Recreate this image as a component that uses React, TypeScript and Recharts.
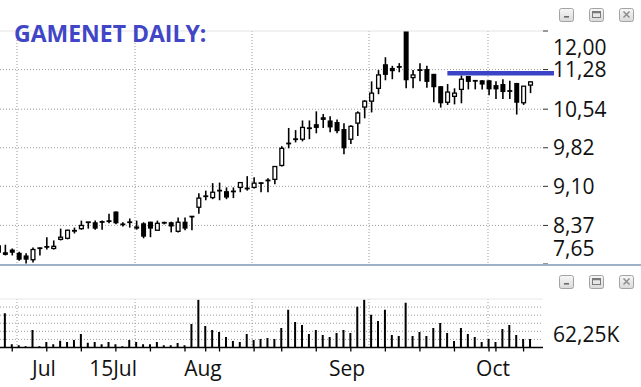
import React from 'react';
import { ComposedChart, Bar, XAxis, YAxis, CartesianGrid, ReferenceLine } from 'recharts';

// Daily candles, trading-day index starts at firstDay (-1 is the partly hidden first candle)
const firstDay = -1;
const openP = [
  8.00, 7.87, 7.92, 7.86, 7.81, 7.73, 7.96, 7.98, 7.94, 8.11,
  8.13, 8.28, 8.31, 8.43, 8.43, 8.44, 8.46, 8.63, 8.39, 8.43,
  8.35, 8.41, 8.44, 8.28, 8.43, 8.43, 8.26, 8.44, 8.54, 8.71,
  8.93, 8.89, 9.02, 9.01, 9.02, 9.08, 9.06, 9.08, 9.16, 9.21,
  9.23, 9.49, 9.90, 9.98, 9.98, 10.20, 10.26, 10.39, 10.33, 10.30,
  10.17, 9.98, 10.28, 10.58, 10.69, 10.93, 11.38, 11.31, 11.33, 12.00,
  11.13, 11.27, 11.29, 11.20, 10.97, 10.67, 10.78, 10.91, 11.16, 11.07,
  11.08, 11.08, 10.99, 11.01, 10.89, 11.03, 10.66, 10.99,
];
const highP = [
  8.01, 8.01, 7.94, 7.88, 7.85, 7.96, 7.96, 8.15, 8.09, 8.31,
  8.29, 8.33, 8.46, 8.43, 8.46, 8.46, 8.59, 8.63, 8.43, 8.50,
  8.46, 8.43, 8.44, 8.46, 8.44, 8.44, 8.52, 8.52, 8.54, 8.97,
  9.02, 9.16, 9.17, 9.08, 9.08, 9.17, 9.29, 9.27, 9.17, 9.25,
  9.47, 9.85, 10.19, 10.15, 10.33, 10.33, 10.50, 10.45, 10.41, 10.35,
  10.28, 10.24, 10.50, 10.71, 11.06, 11.27, 11.51, 11.35, 11.40, 12.00,
  11.27, 11.40, 11.35, 11.20, 10.97, 11.01, 10.93, 11.17, 11.16, 11.08,
  11.08, 11.08, 11.06, 11.10, 11.07, 11.03, 10.97, 11.06,
];
const lowP = [
  7.85, 7.81, 7.81, 7.71, 7.66, 7.68, 7.81, 7.92, 7.92, 8.09,
  8.11, 8.22, 8.29, 8.31, 8.29, 8.29, 8.41, 8.39, 8.35, 8.33,
  8.29, 8.13, 8.15, 8.28, 8.39, 8.24, 8.24, 8.28, 8.28, 8.59,
  8.84, 8.86, 8.84, 8.86, 8.88, 8.99, 9.02, 9.06, 8.99, 8.99,
  9.14, 9.47, 9.81, 9.92, 9.94, 9.98, 10.09, 10.19, 10.11, 10.09,
  9.70, 9.89, 10.04, 10.37, 10.48, 10.82, 11.08, 11.10, 11.23, 10.93,
  10.93, 11.06, 10.94, 10.67, 10.57, 10.62, 10.63, 10.65, 10.91, 10.91,
  10.91, 10.80, 10.73, 10.73, 10.73, 10.44, 10.62, 10.84,
];
const closeP = [
  7.86, 7.82, 7.86, 7.73, 7.73, 7.92, 7.93, 7.96, 7.98, 8.15,
  8.28, 8.26, 8.37, 8.43, 8.31, 8.43, 8.44, 8.41, 8.39, 8.43,
  8.31, 8.16, 8.31, 8.41, 8.41, 8.35, 8.43, 8.31, 8.53, 8.88,
  8.90, 8.99, 9.02, 8.89, 8.99, 9.17, 9.06, 9.16, 9.16, 9.21,
  9.47, 9.81, 9.90, 9.98, 10.20, 10.17, 10.19, 10.34, 10.20, 10.13,
  9.81, 10.22, 10.47, 10.69, 10.84, 11.18, 11.18, 11.25, 11.33, 11.08,
  11.18, 11.27, 11.05, 10.95, 10.65, 10.86, 10.84, 11.10, 11.05, 11.07,
  11.00, 10.91, 10.91, 10.86, 10.87, 10.66, 10.97, 11.05,
];
// Volume in thousands
const volumeK = [
  34.4, 159, 15.6, 10.9, 6.25, 81, 6.25, 25, 15.6, 31,
  25, 34.4, 62.5, 21.9, 25, 15.6, 25, 15.6, 6.25, 34.4,
  25, 15.6, 15.6, 25, 10.9, 10.9, 20.3, 10.9, 109, 222,
  100, 81, 71.9, 48.4, 29.7, 25, 62.5, 34.4, 39, 43.7,
  39, 90.6, 175, 118.75, 104.7, 62.5, 81, 57.8, 48.4, 67.2,
  81, 67.2, 189, 222, 151.6, 123.4, 175, 57.8, 53.1, 207.8,
  53.1, 71.9, 53.1, 90.6, 114, 67.2, 29.7, 90.6, 62.5, 48.4,
  25, 39, 25, 85.9, 104.7, 57.8, 39, 39,
];

const dayDomain = [-0.77, 77.81];
const priceDomain = [7.65, 12.0];
const priceTicks = [7.65, 8.37, 9.1, 9.82, 10.54, 11.28, 12.0];
const priceGrid = [8.37, 9.1, 9.82, 10.54, 11.28];
const gridDays = [1.69, 18.77, 35.7, 52.63, 69.85];
const weekTickDays = [1, 6, 11, 16, 21, 26, 29, 31, 36, 40, 45, 50, 55, 60, 65, 70, 71, 75];
const monthLabelDays = [5.6, 15.59, 28.6, 49.45, 70.58];
const monthLabels = ['Jul', '15Jul', 'Aug', 'Sep', 'Oct'];
const volDomain = [0, 225];
const volGrid = [37.5, 75, 112.5, 150, 187.5];
const volTicks = [62.25];
const resistance = { from: 63.97, to: 79.4, level: 11.21 };
const titleText = 'GAMENET DAILY:';

const candles = openP.map((o, i) => ({
  day: i + firstDay,
  open: o,
  high: highP[i],
  low: lowP[i],
  close: closeP[i],
  range: [lowP[i], highP[i]],
}));
const volData = volumeK.map((v, i) => ({ day: i + firstDay, volume: v }));

const FONT = "'Open Sans', 'Noto Sans', sans-serif";
const fmt = (v: number) => v.toFixed(2).replace('.', ',');

const Candle = (props: any) => {
  const { x, y, width, height, payload } = props;
  if (x == null || y == null || !payload) return null;
  const cx = x + width / 2;
  const top = Math.min(y, y + height);
  const h = Math.abs(height);
  const span = payload.high - payload.low;
  const py = (v: number) => top + (span > 0 ? ((payload.high - v) / span) * h : 0);
  const yo = py(payload.open);
  const yc = py(payload.close);
  let bTop = Math.min(yo, yc);
  let bH = Math.abs(yo - yc);
  if (bH < 1.8) {
    bTop = (yo + yc) / 2 - 0.9;
    bH = 1.8;
  }
  const up = payload.close > payload.open;
  const bw = 5;
  return (
    <g>
      <line x1={cx} x2={cx} y1={top} y2={top + h} stroke="#000" strokeWidth={1.6} />
      {up ? (
        <rect x={cx - bw / 2 + 0.6} y={bTop} width={bw - 1.2} height={bH} fill="#fff" stroke="#000" strokeWidth={1.3} />
      ) : (
        <rect x={cx - bw / 2} y={bTop} width={bw} height={bH} fill="#000" />
      )}
    </g>
  );
};

const PriceTick = (props: any) => {
  const { x, y, payload } = props;
  const v = payload.value;
  let yy = y;
  if (v >= priceDomain[1]) yy = y + 16;
  else if (v <= priceDomain[0]) yy = y - 15.5;
  return (
    <text x={x} y={yy + 7.5} fill="#111" fontSize={21} fontFamily={FONT} textAnchor="start">
      {fmt(v)}
    </text>
  );
};

const VolTick = (props: any) => {
  const { x, y, payload } = props;
  return (
    <text x={x} y={y + 7.5} fill="#111" fontSize={21} fontFamily={FONT} textAnchor="start">
      {fmt(payload.value) + 'K'}
    </text>
  );
};

const DayTick = (props: any) => {
  const { x, y, payload } = props;
  const li = monthLabelDays.indexOf(payload.value);
  if (li >= 0) {
    return (
      <text x={x} y={y + 28} fill="#111" fontSize={21} fontFamily={FONT} textAnchor="middle">
        {monthLabels[li]}
      </text>
    );
  }
  return <line x1={x} x2={x} y1={y} y2={y + 4} stroke="#000" strokeWidth={1.3} />;
};

const WinButtons = ({ y }: { y: number }) => (
  <g>
    {[559, 589, 619].map((bx, i) => (
      <g key={i}>
        <rect x={bx + 0.5} y={y + 0.5} width={14} height={13} rx={2} fill="url(#btnGrad)" stroke="#a3a3a3" />
        {i === 0 && <rect x={bx + 5} y={y + 8} width={5} height={1.6} fill="#6a6a6a" />}
        {i === 1 && (
          <g>
            <rect x={bx + 3.5} y={y + 3.5} width={8} height={6} fill="none" stroke="#7a7a7a" strokeWidth={1} />
            <rect x={bx + 3.5} y={y + 3.5} width={8} height={1.8} fill="#7a7a7a" />
          </g>
        )}
        {i === 2 && (
          <path
            d={`M${bx + 4.5} ${y + 3.5} L${bx + 10.5} ${y + 9.5} M${bx + 10.5} ${y + 3.5} L${bx + 4.5} ${y + 9.5}`}
            stroke="#8c8c8c"
            strokeWidth={1.5}
          />
        )}
      </g>
    ))}
  </g>
);

export default function App() {
  return (
    <div style={{ position: 'absolute', left: 0, top: 0, width: 641, height: 387, background: '#fff', overflow: 'hidden' }}>
      <div style={{ position: 'absolute', left: 0, top: 0 }}>
        <ComposedChart width={641} height={264} data={candles} margin={{ top: 31, right: 0, bottom: 0, left: 0 }}>
          <XAxis type="number" dataKey="day" domain={dayDomain} allowDataOverflow hide />
          <YAxis
            orientation="right"
            type="number"
            domain={priceDomain}
            allowDataOverflow
            ticks={priceTicks}
            interval={0}
            width={98}
            tickSize={5}
            tickMargin={5}
            axisLine={false}
            tickLine={{ stroke: '#333', strokeWidth: 1 }}
            tick={<PriceTick />}
          />
          <CartesianGrid stroke="#9a9a9a" strokeDasharray="1 2" horizontalValues={priceGrid} verticalValues={gridDays} />
          <ReferenceLine y={priceDomain[1]} stroke="#e4e4e4" strokeWidth={1} />
          <Bar dataKey="range" shape={(p: any) => <Candle {...p} />} isAnimationActive={false} barSize={5} />
          <ReferenceLine
            segment={[
              { x: resistance.from, y: resistance.level },
              { x: resistance.to, y: resistance.level },
            ]}
            stroke="#3b44c6"
            strokeWidth={4.5}
            ifOverflow="visible"
          />
        </ComposedChart>
      </div>
      <div style={{ position: 'absolute', left: 0, top: 264, width: 641, height: 2, background: '#9db2c9' }} />
      <div style={{ position: 'absolute', left: 0, top: 266 }}>
        <ComposedChart width={641} height={121} data={volData} margin={{ top: 33, right: 0, bottom: 0, left: 0 }}>
          <XAxis
            type="number"
            dataKey="day"
            domain={dayDomain}
            allowDataOverflow
            height={39.5}
            ticks={[...weekTickDays, ...monthLabelDays]}
            interval={0}
            tickSize={0}
            tickMargin={0}
            tickLine={false}
            axisLine={{ stroke: '#000', strokeWidth: 1.5 }}
            tick={<DayTick />}
          />
          <YAxis
            orientation="right"
            type="number"
            domain={volDomain}
            allowDataOverflow
            ticks={volTicks}
            interval={0}
            width={98}
            tickSize={5}
            tickMargin={5}
            axisLine={false}
            tickLine={false}
            tick={<VolTick />}
          />
          <CartesianGrid stroke="#9a9a9a" strokeDasharray="1 2" horizontalValues={volGrid} verticalValues={gridDays} />
          <ReferenceLine y={volDomain[1]} stroke="#e8e8e8" strokeWidth={1} />
          <Bar dataKey="volume" fill="#000" barSize={2} isAnimationActive={false} />
        </ComposedChart>
      </div>
      <svg width={641} height={387} style={{ position: 'absolute', left: 0, top: 0, pointerEvents: 'none' }}>
        <defs>
          <linearGradient id="btnGrad" x1="0" y1="0" x2="0" y2="1">
            <stop offset="0" stopColor="#f7f7f7" />
            <stop offset="1" stopColor="#d9d9d9" />
          </linearGradient>
        </defs>
        <text x={14} y={41.5} fill="#4146c6" fontSize={23} fontWeight="bold" fontFamily={FONT}>
          {titleText}
        </text>
        <WinButtons y={8} />
        <WinButtons y={275} />
      </svg>
    </div>
  );
}
